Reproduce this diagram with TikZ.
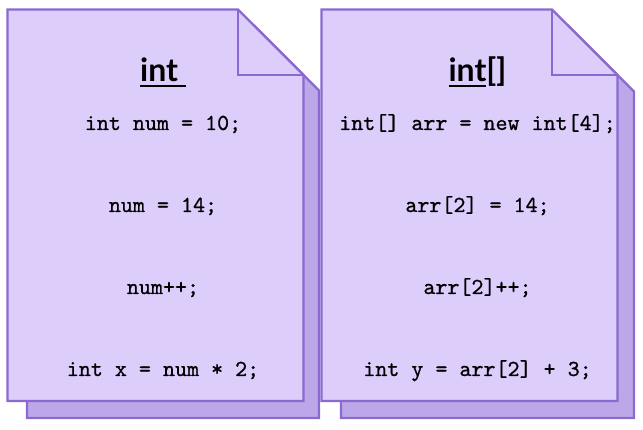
\documentclass[tikz,border=0pt]{standalone}
\usepackage{fontspec}
\newfontfamily\titlefont{Lato}
\newfontfamily\codefont{lmmono10-regular.otf}[FakeBold=0.8]
\definecolor{pagefront}{RGB}{220,205,251}
\definecolor{pageback}{RGB}{188,168,232}
\definecolor{pageline}{RGB}{138,106,208}
\newcommand\myul[1]{\setbox0\hbox{#1}\rlap{\rule[-5pt]{\wd0}{2pt}}\box0}
\tikzset{
  frontpage/.style={fill=pagefront, draw=pageline, line width=2.2pt, line join=miter},
  backpage/.style={fill=pageback, draw=pageline, line width=2.2pt, line join=miter},
  foldline/.style={draw=pageline, line width=2.2pt},
  titletext/.style={anchor=base, inner sep=0pt, font=\titlefont\bfseries\fontsize{32}{36}\selectfont},
  codetext/.style={anchor=base, inner sep=0pt, font=\codefont\fontsize{22.9}{26}\selectfont}
}
\begin{document}
\begin{tikzpicture}[x=1pt, y=-1pt]
\useasboundingbox (0,0) rectangle (643,430);
% left document
\path[backpage] (27,418) -- (319,418) -- (319,90.5) -- (254,25.5) -- (27,25.5) -- cycle;
\path[frontpage] (7.5,9.5) -- (238,9.5) -- (303.5,75) -- (303.5,401) -- (7.5,401) -- cycle;
\path[foldline] (238,9.5) -- (238,75) -- (303.5,75);
% right document
\path[backpage] (341,418) -- (634,418) -- (634,91.5) -- (568,25.5) -- (341,25.5) -- cycle;
\path[frontpage] (321.5,9.5) -- (552,9.5) -- (617.5,75) -- (617.5,401) -- (321.5,401) -- cycle;
\path[foldline] (552,9.5) -- (552,75) -- (617.5,75);
% texts
\node[titletext] (t1) at (163,81.7) {\myul{int\ }};
\node[codetext] (a1) at (163,130) {int num = 10;};
\node[codetext] (a2) at (163,212) {num = 14;};
\node[codetext] (a3) at (163,294) {num++;};
\node[codetext] (a4) at (163,376) {int x = num * 2;};
\node[titletext] (t2) at (477.5,81.7) {\myul{int}[]};
\node[codetext] (b1) at (477.5,130) {int[] arr = new int[4];};
\node[codetext] (b2) at (477.5,212) {arr[2] = 14;};
\node[codetext] (b3) at (477.5,294) {arr[2]++;};
\node[codetext] (b4) at (477.5,376) {int y = arr[2] + 3;};
\end{tikzpicture}
\end{document}
